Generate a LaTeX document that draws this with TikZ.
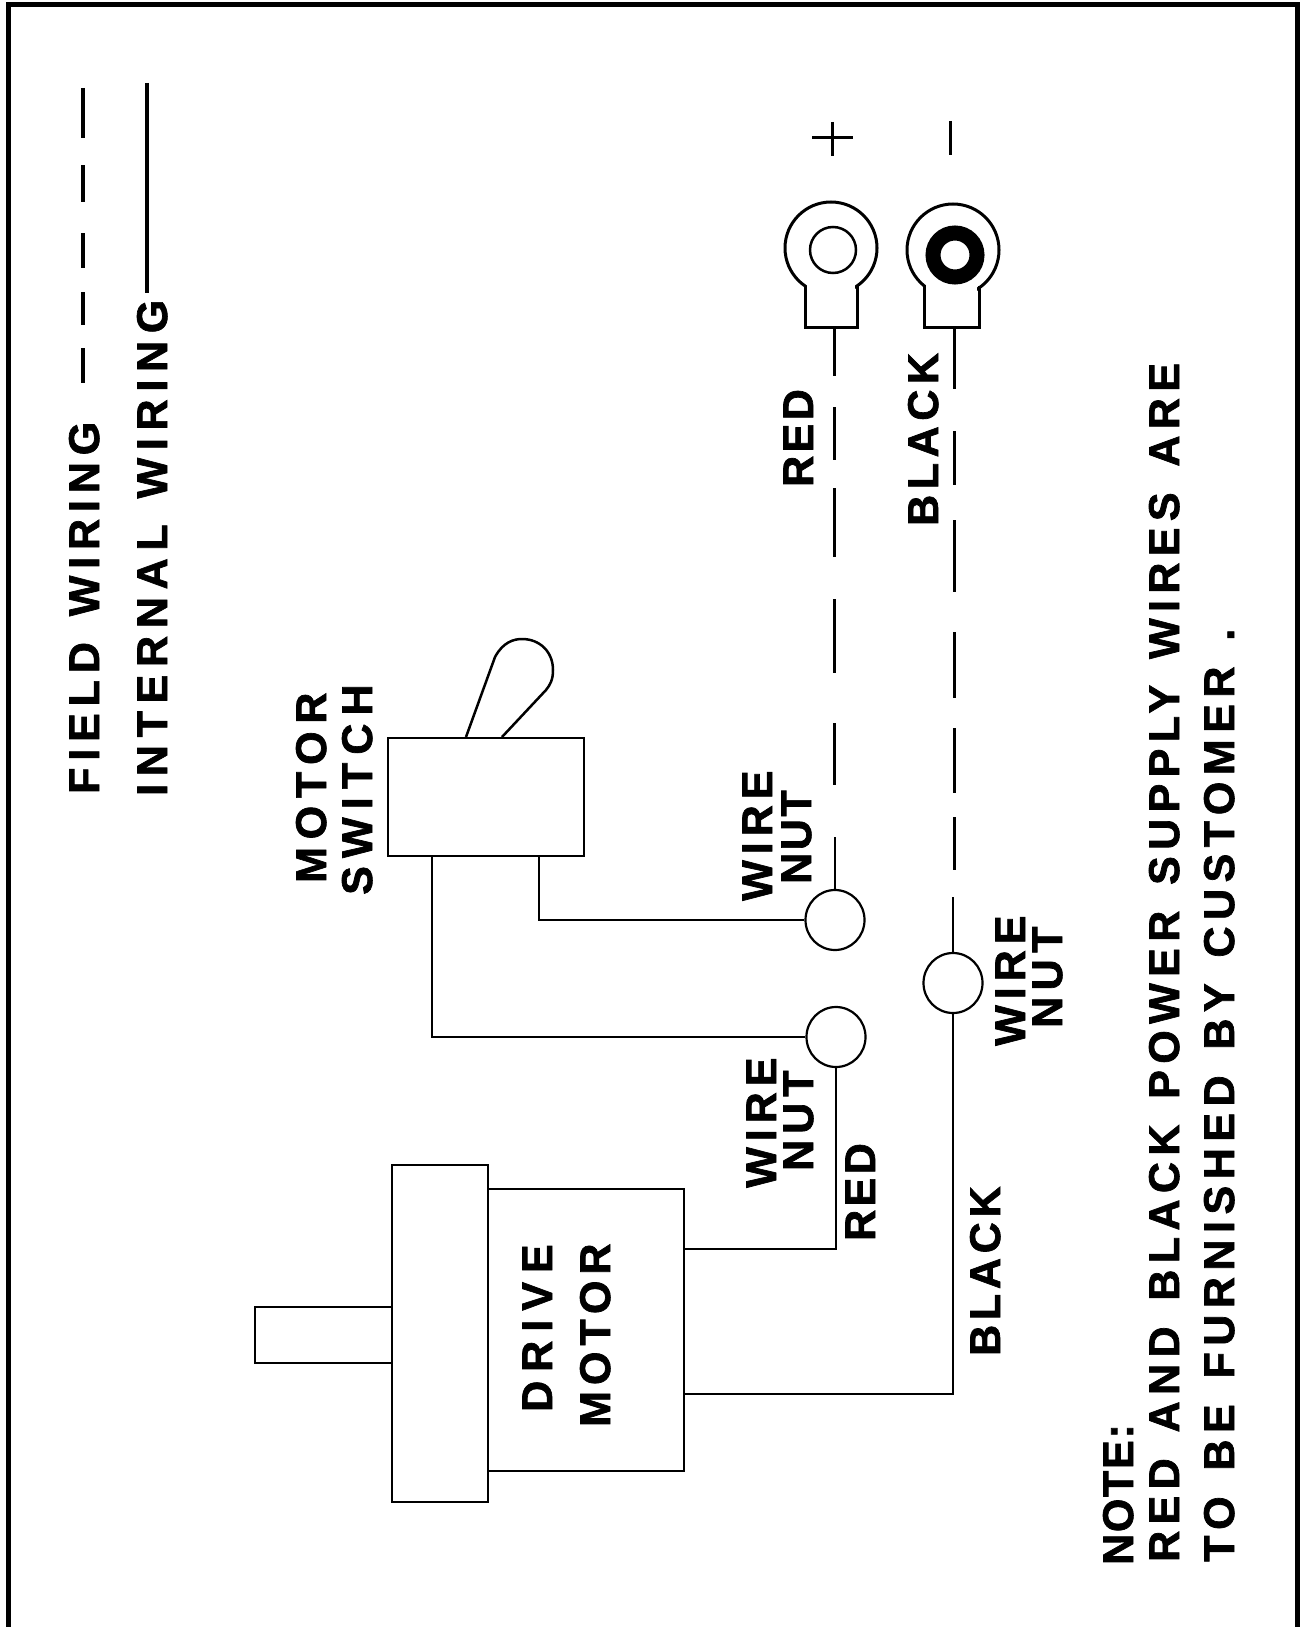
\documentclass[tikz,border=0pt]{standalone}
\usepackage{fontspec}
\setmainfont{Liberation Sans}
\usetikzlibrary{shapes.geometric}
\newcommand{\tracked}[1]{\addfontfeature{LetterSpace=#1,FakeBold=1.6}\spaceskip=.6em\relax}
\tikzset{
  wire/.style={line width=2.5pt},
  fieldwire/.style={line width=3pt},
  part/.style={draw,line width=2.5pt,inner sep=0pt},
  nut/.style={draw,ellipse,line width=2.2pt,inner sep=0pt,minimum width=59pt,minimum height=60pt},
  lbl/.style={font=\fontsize{43}{43}\selectfont\bfseries,rotate=90,anchor=base west,inner sep=0pt}
}
\begin{document}
\begin{tikzpicture}[x=1pt,y=-1pt]

\useasboundingbox (0,0) rectangle (1301,1627);
\fill[white] (0,0) rectangle (1301,1627);

% Moldura
\draw[line width=5pt] (8.5,1627) -- (8.5,5) -- (1297.5,5) -- (1297.5,1627);

% Legenda
\node[lbl] (fieldlbl) at (99,794) {\tracked{16}FIELD WIRING};
\node[lbl] (internallbl) at (167,796) {\tracked{18}INTERNAL WIRING};
\foreach \a/\b in {88/138,165/202,233/268,292/325,348/383}
  \draw[line width=4.5pt] (83,\a) -- (83,\b);
\draw[line width=4pt] (147,83) -- (147,293);

% Sinais
\draw[line width=3pt] (812,138) -- (853,138);
\draw[line width=3pt] (832,122) -- (832,156);
\draw[line width=3pt] (950,121) -- (950,155);

% Terminal vermelho
\draw[wire,line width=3pt] (831,248) circle (46);
\fill[white] (807,278) rectangle (855,300);
\draw[wire,line width=3pt] (805,286) -- (805,327) -- (857,327) -- (857,286);
\draw[wire] (833,250) circle (23);
\coordinate (lugred) at (834,327);

% Terminal preto
\draw[wire,line width=3pt] (953,250) circle (46);
\fill[white] (926,278) rectangle (977,300);
\draw[wire,line width=3pt] (924,286) -- (924,327) -- (979,327) -- (979,286);
\draw[line width=15pt] (955,255) circle (22);
\coordinate (lugblack) at (954,327);

% Porcas
\node[nut] (nuttop) at (835,920) {};
\node[nut] (nutlow) at (836,1037) {};
\node[nut] (nutblack) at (953,983) {};

% Fiacao de campo
\coordinate (redend) at (835,837);
\coordinate (blackend) at (953,897);
\coordinate (redfirst) at (834,376);
\coordinate (blackfirst) at (954,389);
\draw[fieldwire] (lugred) -- (redfirst);
\draw[fieldwire] (lugblack) -- (blackfirst);
\foreach \a/\b in {407/460,488/557,599/673,723/785}
  \draw[fieldwire] (834,\a) -- (834,\b);
\foreach \a/\b in {431/485,520/592,632/698,728/793,817/870}
  \draw[fieldwire] (954,\a) -- (954,\b);
\draw[wire] (redend) -- (nuttop.north);
\draw[wire] (blackend) -- (nutblack.north);

% Interruptor
\node[part,minimum width=196pt,minimum height=118pt] (switch) at (486,797) {};
\draw[wire] (466,737) -- (495,657) .. controls (503,642) and (514,639) .. (522,639)
  .. controls (540,639) and (553,652) .. (553,670)
  .. controls (553,680) and (550,685) .. (546,690) -- (502,737);
\coordinate (swleft) at (432,856);
\coordinate (swright) at (539,856);
\draw[wire] (swright) |- (nuttop.west);
\draw[wire] (swleft) |- (nutlow.west);

% Motor
\node[part,minimum width=196pt,minimum height=282pt] (motor) at (586,1330) {};
\node[part,fill=white,minimum width=96pt,minimum height=337pt] (flange) at (440,1333.5) {};
\draw[wire] (392,1307) -- (255,1307) -- (255,1363) -- (392,1363);
\coordinate (motorred) at (684,1249);
\coordinate (motorblack) at (684,1394);
\draw[wire] (motorred) -| (nutlow.south);
\draw[wire] (motorblack) -| (nutblack.south);

% Textos
\node[lbl] (motorlbl) at (326,883) {\tracked{18}MOTOR};
\node[lbl] (switchlbl) at (372,895) {\tracked{19}SWITCH};
\node[lbl] (wiretop) at (772,901) {\tracked{14}WIRE};
\node[lbl] (nuttoplbl) at (811,884) {\tracked{6}NUT};
\node[lbl] (wirelow) at (776,1188) {\tracked{14}WIRE};
\node[lbl] (nutlowlbl) at (813,1171) {\tracked{14}NUT};
\node[lbl] (wireblack) at (1025,1046) {\tracked{14}WIRE};
\node[lbl] (nutblacklbl) at (1062,1028) {\tracked{15}NUT};
\node[lbl] (redtop) at (813,487) {\tracked{8}RED};
\node[lbl] (blacktop) at (938,526) {\tracked{13}BLACK};
\node[lbl] (redlow) at (875,1241) {\tracked{8}RED};
\node[lbl] (blacklow) at (1000,1356) {\tracked{11}BLACK};
\node[lbl] (drivelbl) at (552,1412) {\tracked{21}DRIVE};
\node[lbl] (motorname) at (610,1427) {\tracked{14}MOTOR};
\node[lbl] (notelbl) at (1133,1565) {\tracked{4}NOTE:};
\node[lbl] (noteone) at (1179,1562) {\tracked{14.9}RED AND BLACK POWER SUPPLY WIRES ARE};
\node[lbl] (notetwo) at (1234,1562) {\tracked{15.2}TO BE FURNISHED BY CUSTOMER .};

\end{tikzpicture}
\end{document}
